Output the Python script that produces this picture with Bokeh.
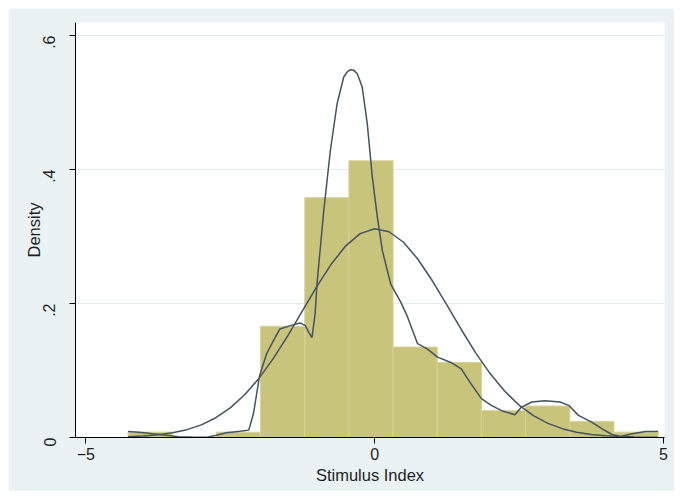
import math
from bokeh.plotting import figure
from bokeh.models import FixedTicker, CustomJSTickFormatter
from bokeh.embed import file_html
from bokeh.resources import INLINE

# ---- data ----
bin_edges = [-4.27, -3.505, -2.74, -1.975, -1.21, -0.445, 0.32, 1.085, 1.85, 2.615, 3.38, 4.145, 4.91]
bin_heights = [0.008, 0.0, 0.008, 0.166, 0.358, 0.413, 0.135, 0.112, 0.040, 0.047, 0.024, 0.008]

kernel_x = [-4.27, -4.08, -3.84, -3.61, -3.40, -3.10, -2.90, -2.74, -2.57, -2.33, -2.18, -2.10,
            -1.99, -1.87, -1.75, -1.64, -1.46, -1.29, -1.20, -1.14, -1.085, -1.03, -0.998,
            -0.88, -0.767, -0.65, -0.535, -0.47, -0.418, -0.36, -0.30, -0.215, -0.127, -0.04, 0.047, 0.134,
            0.279, 0.453, 0.57, 0.744, 0.918, 1.09, 1.32, 1.50, 1.67, 1.85, 2.02, 2.20, 2.43,
            2.54, 2.72, 2.95, 3.21, 3.36, 3.53, 3.76, 3.94, 4.11, 4.26, 4.46, 4.69, 4.91]
kernel_y = [0.009, 0.008, 0.0055, 0.0035, 0.001, 0.0002, 0.0005, 0.0035, 0.007, 0.0094, 0.011, 0.035,
            0.093, 0.125, 0.145, 0.162, 0.167, 0.171, 0.167, 0.157, 0.149, 0.185, 0.229,
            0.339, 0.428, 0.498, 0.538, 0.546, 0.549, 0.548, 0.543, 0.523, 0.468, 0.389, 0.329, 0.279,
            0.229, 0.202, 0.180, 0.140, 0.132, 0.120, 0.112, 0.1025, 0.080, 0.058, 0.048, 0.040, 0.034,
            0.045, 0.053, 0.055, 0.053, 0.048, 0.033, 0.023, 0.013, 0.0045, 0.0015, 0.0055, 0.009, 0.009]

normal_x = [-4.27, -4.0, -3.75, -3.5, -3.25, -3.0, -2.75, -2.5, -2.25, -2.0, -1.75, -1.5, -1.25,
            -1.0, -0.75, -0.5, -0.25, 0.0, 0.25, 0.5, 0.75, 1.0, 1.25, 1.5, 1.75, 2.0, 2.25,
            2.5, 2.75, 3.0, 3.25, 3.5, 3.75, 4.0, 4.25, 4.5, 4.91]
normal_y = [0.0012, 0.0022, 0.0040, 0.0070, 0.0117, 0.0189, 0.0295, 0.0442, 0.0638, 0.0886, 0.1185,
            0.1525, 0.1891, 0.2255, 0.2589, 0.2861, 0.3043, 0.3116, 0.3071, 0.2914, 0.2661, 0.2339,
            0.1980, 0.1612, 0.1264, 0.0954, 0.0693, 0.0484, 0.0326, 0.0211, 0.0132, 0.0079, 0.0046,
            0.0025, 0.0014, 0.0007, 0.0002]

x_ticks = [-5, 0, 5]
y_ticks = [0, 0.2, 0.4, 0.6]
x_title = "Stimulus Index"
y_title = "Density"

FONT = "Liberation Sans"
TEXT_COLOR = "#1e1e1e"
BAR_COLOR = "#c9c47c"
LINE_COLOR = "#44535f"
BG = "#eaf2f3"

p = figure(width=666, height=483, x_range=(-5.18, 5.02), y_range=(0, 0.6194),
           output_backend="svg", toolbar_location=None,
           min_border_left=67, min_border_right=10, min_border_top=14, min_border_bottom=54)
p.margin = (8, 8, 8, 8)

p.border_fill_color = BG
p.background_fill_color = "white"
p.outline_line_color = None

p.quad(left=bin_edges[:-1], right=bin_edges[1:], top=bin_heights, bottom=0,
       fill_color=BAR_COLOR, line_color="#d6d29c", line_width=1)

p.line(normal_x, normal_y, line_color=LINE_COLOR, line_width=1.5)
p.line(kernel_x, kernel_y, line_color=LINE_COLOR, line_width=1.5)

p.xgrid.visible = False
p.ygrid.ticker = FixedTicker(ticks=[0.2, 0.4, 0.6])
p.ygrid.grid_line_color = "#e4ecee"
p.ygrid.grid_line_width = 1

for ax in (p.xaxis[0], p.yaxis[0]):
    ax.axis_line_color = "black"
    ax.axis_line_width = 1
    ax.major_tick_line_color = "black"
    ax.major_tick_out = 6
    ax.major_tick_in = 0
    ax.minor_tick_line_color = None
    ax.major_label_text_font = FONT
    ax.major_label_text_font_size = "16px"
    ax.major_label_text_color = TEXT_COLOR
    ax.axis_label_text_font = FONT
    ax.axis_label_text_font_size = "16.5px"
    ax.axis_label_text_font_style = "normal"
    ax.axis_label_text_color = TEXT_COLOR

p.xaxis.ticker = FixedTicker(ticks=x_ticks)
p.xaxis.axis_label = x_title
p.xaxis.major_label_standoff = 4
p.xaxis.axis_label_standoff = 3

p.yaxis.ticker = FixedTicker(ticks=y_ticks)
p.yaxis.formatter = CustomJSTickFormatter(
    code="if (tick == 0) { return '0'; } return tick.toFixed(1).replace(/^0/, '');")
p.yaxis.major_label_orientation = math.pi / 2
p.yaxis.axis_label = y_title
p.yaxis.major_label_standoff = 20
p.yaxis.axis_label_standoff = -8

open("out.html", "w").write(file_html(p, INLINE))
